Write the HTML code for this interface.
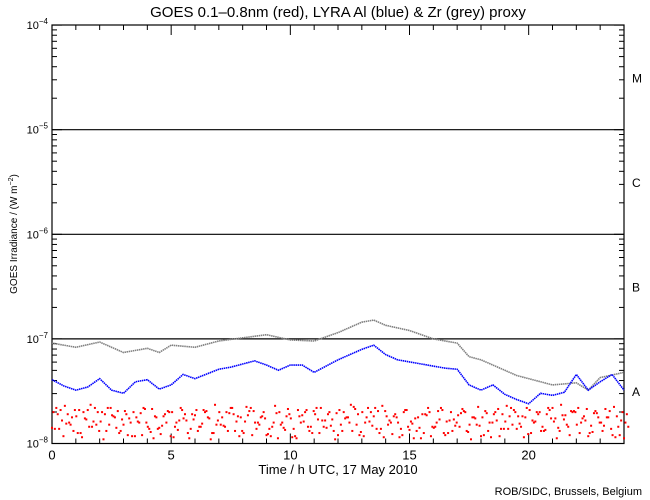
<!DOCTYPE html>
<html><head><meta charset="utf-8"><style>
html,body{margin:0;padding:0;background:#fff;}
svg{display:block;font-family:"Liberation Sans",sans-serif;}
</style></head><body>
<svg id="chart" width="650" height="500" viewBox="0 0 650 500" xmlns="http://www.w3.org/2000/svg">
<rect width="650" height="500" fill="#fff"/>
<text x="338" y="17" text-anchor="middle" font-size="15">GOES 0.1–0.8nm (red), LYRA Al (blue) &amp; Zr (grey) proxy</text>
<text transform="translate(17,234) rotate(-90)" text-anchor="middle" font-size="10">GOES Irradiance / (W m<tspan dy="-4" font-size="7">−2</tspan><tspan dy="4">)</tspan></text>
<text x="338" y="474" text-anchor="middle" font-size="13">Time / h UTC, 17 May 2010</text>
<text x="642" y="495" text-anchor="end" font-size="11">ROB/SIDC, Brussels, Belgium</text>
<g id="axes"></g>
<g id="series"></g>
</svg>
<script>
const xTickLabels = [0, 5, 10, 15, 20];
const yDecades = [-8, -7, -6, -5, -4];
const flareClasses = ["A", "B", "C", "M"];
// Zr (grey) proxy, log10 irradiance
const greyHours = [0,1,2,3,4,4.5,5,6,7,8,9,10,11,12,13,13.5,14,15,16,17,17.5,18,19,19.5,20,20.5,21,22,22.5,23,24];
const greyLog = [-7.04,-7.08,-7.03,-7.13,-7.09,-7.13,-7.06,-7.08,-7.02,-6.99,-6.96,-7.01,-7.02,-6.94,-6.84,-6.82,-6.87,-6.92,-7.00,-7.04,-7.17,-7.20,-7.30,-7.35,-7.38,-7.41,-7.44,-7.42,-7.49,-7.37,-7.32];
// Al (blue) proxy, log10 irradiance
const blueHours = [0,0.5,1,1.5,2,2.5,3,3.5,4,4.5,5,5.5,6,7,7.5,8,8.5,9,9.5,10,10.5,11,12,12.5,13,13.5,14,14.5,15,16,16.5,17,17.5,18,18.5,19,19.5,20,20.5,21,21.5,22,22.5,23,23.5,24];
const blueLog = [-7.39,-7.45,-7.49,-7.46,-7.38,-7.49,-7.52,-7.41,-7.39,-7.48,-7.44,-7.34,-7.38,-7.29,-7.27,-7.24,-7.21,-7.25,-7.30,-7.25,-7.25,-7.32,-7.20,-7.15,-7.10,-7.06,-7.15,-7.20,-7.22,-7.26,-7.28,-7.29,-7.44,-7.49,-7.44,-7.53,-7.58,-7.62,-7.52,-7.54,-7.51,-7.34,-7.49,-7.41,-7.34,-7.49];
// GOES (red) scattered samples, log10 irradiance, every 0.24 h
const redLog = [-7.85,-7.72,-7.93,-7.80,-7.68,-7.90,-7.77,-7.84,-7.70,-7.96,-7.82,-7.75,-7.88,-7.72,-7.93,-7.79,-7.66,-7.86,-7.74,-7.91,
-7.80,-7.70,-7.87,-7.76,-7.95,-7.73,-7.84,-7.69,-7.90,-7.78,-7.83,-7.71,-7.88,-7.75,-7.65,-7.92,-7.80,-7.70,-7.86,-7.64,
-7.82,-7.74,-7.94,-7.68,-7.79,-7.88,-7.72,-7.66,-7.85,-7.77,-7.92,-7.70,-7.80,-7.67,-7.89,-7.75,-7.83,-7.69,-7.94,-7.78,
-7.72,-7.86,-7.68,-7.81,-7.75,-7.90,-7.70,-7.84,-7.66,-7.79,-7.88,-7.73,-7.69,-7.82,-7.76,-7.93,-7.71,-7.80,-7.67,-7.86,
-7.74,-7.70,-7.84,-7.66,-7.78,-7.72,-7.88,-7.68,-7.76,-7.63,-7.82,-7.70,-7.66,-7.74,-7.90,-7.69,-7.80,-7.75,-7.92,-7.84,-7.95];

const X0=52, X1=624, Y0=443.5, PX_DEC=104.6;
const xs = h => X0 + h*(X1-X0)/24;
const ys = l => Y0 - (l+8)*PX_DEC;
const NS="http://www.w3.org/2000/svg";
const axes=document.getElementById('axes'), series=document.getElementById('series');
function mk(tag, attrs, parent){const e=document.createElementNS(NS,tag);for(const k in attrs)e.setAttribute(k,attrs[k]);parent.appendChild(e);return e;}

const frame=mk('rect',{x:X0,y:25,width:X1-X0,height:Y0-25,fill:'none',stroke:'#000','stroke-width':1.2},axes);



yDecades.forEach((d,i)=>{
  const y=ys(d);
  if(i>0 && i<yDecades.length-1){
    const ln=mk('line',{x1:X0,x2:X1,y1:y,y2:y,stroke:'#000','stroke-width':1.2},axes);
    
    
  }
  const t=mk('text',{x:X0-4,y:y+4,'text-anchor':'end','font-size':11},axes);
  
  
  t.innerHTML='10<tspan dy="-5" font-size="8">−'+(-d)+'</tspan>';
  [X0,X1].forEach((xx,side)=>{
    const dir= side? -1:1;
    mk('line',{x1:xx,x2:xx+dir*10,y1:y,y2:y,stroke:'#000'},axes);
    if(i<yDecades.length-1){
      for(let m=2;m<=9;m++){
        const ym=ys(d+Math.log10(m));
        mk('line',{x1:xx,x2:xx+dir*5,y1:ym,y2:ym,stroke:'#000'},axes);
      }
    }
  });
});
flareClasses.forEach((c,i)=>{
  const t=mk('text',{x:632,y:ys(-8+i+0.5)+5,'font-size':12},axes);
  
  
  t.textContent=c;
});
for(let h=0;h<=24;h++){
  const x=xs(h), L= h%5===0?10:5;
  mk('line',{x1:x,x2:x,y1:Y0,y2:Y0-L,stroke:'#000'},axes);
  mk('line',{x1:x,x2:x,y1:25,y2:25+L,stroke:'#000'},axes);
}
xTickLabels.forEach(h=>{
  const t=mk('text',{x:xs(h),y:Y0+16,'text-anchor':'middle','font-size':13},axes);
  
  
  t.textContent=h;
});
function line(hours,vals,color,name){
  const p=mk('polyline',{points:hours.map((h,i)=>xs(h)+','+ys(vals[i])).join(' '),fill:'none',stroke:color,'stroke-width':1.6,'stroke-dasharray':'1.5 0.6'},series);
  
  
}
line(greyHours,greyLog,'#808080','zr-grey-series');
line(blueHours,blueLog,'#0000ff','al-blue-series');
const rg=mk('g',{},series);


const N=redLog.length;
redLog.forEach((v,i)=>{
  const h=i*0.24;
  [[0,0],[0.06,37],[0.12,61],[0.18,83]].forEach(([dh,off])=>{
    mk('rect',{x:xs(h+dh)-1,y:ys(redLog[(i+off)%N])-1,width:2,height:2,fill:'#ff0000'},rg);
  });
});
</script>
</body></html>
